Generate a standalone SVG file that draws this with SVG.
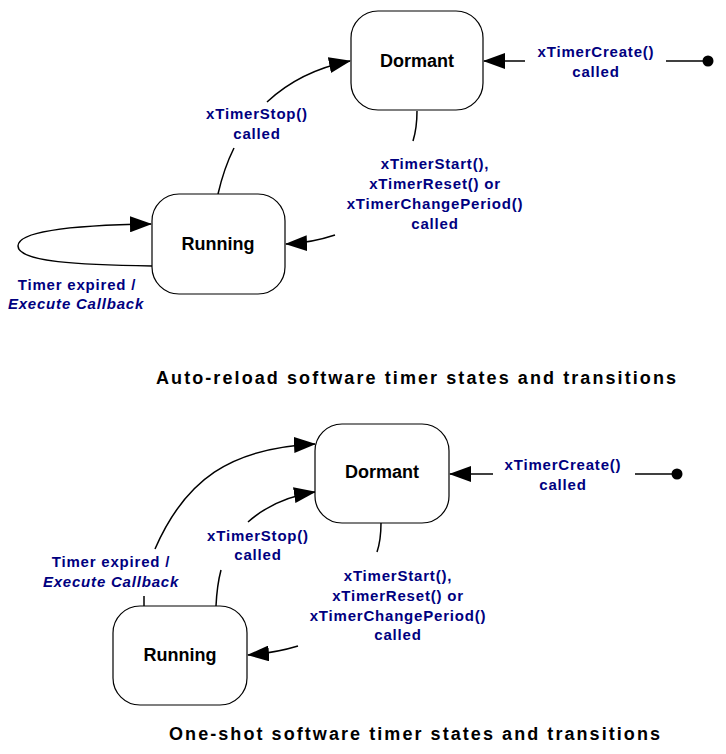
<svg xmlns="http://www.w3.org/2000/svg" width="726" height="754" viewBox="0 0 726 754">
<style>
.box{fill:#fff;stroke:#000;stroke-width:1.2}
.node{font-family:"Liberation Sans",Arial,sans-serif;font-weight:bold;font-size:18px;fill:#000;text-anchor:middle}
.lbl{font-family:"Liberation Sans",Arial,sans-serif;font-weight:bold;font-size:15px;fill:#00007f;text-anchor:middle;letter-spacing:0.8px}
.it{font-style:italic}
.cap{font-family:"Liberation Sans",Arial,sans-serif;font-weight:bold;font-size:18px;fill:#000}
.edge{fill:none;stroke:#000;stroke-width:1.5}
</style>
<defs>
<marker id="ah" markerUnits="userSpaceOnUse" markerWidth="22" markerHeight="16" refX="21" refY="8" orient="auto">
<path d="M0,0 L22,8 L0,16 z" fill="#000"/>
</marker>
</defs>
<rect width="726" height="754" fill="#fff"/>

<g id="connectors">
<!-- top diagram -->
<path class="edge" d="M666,61 L704,61"/>
<circle cx="708" cy="61" r="5.5" fill="#000"/>
<path class="edge" d="M525,61 L484,61" marker-end="url(#ah)"/>
<path class="edge" d="M218,194 Q224,168 234,148"/>
<path class="edge" d="M267,102 Q300,71 350,61" marker-end="url(#ah)"/>
<path class="edge" d="M417,111 Q417,128 413,141"/>
<path class="edge" d="M335,235 Q311,243 286,244" marker-end="url(#ah)"/>
<path class="edge" d="M152,266 C80,265 18,262 18,246 C18,230 80,225 151,224" marker-end="url(#ah)"/>
<!-- bottom diagram -->
<path class="edge" d="M635,474 L673,474"/>
<circle cx="677" cy="474" r="5.5" fill="#000"/>
<path class="edge" d="M493,474 L450,474" marker-end="url(#ah)"/>
<path class="edge" d="M144,606 L144,596"/>
<path class="edge" d="M155,549 C185,480 230,448 315,444" marker-end="url(#ah)"/>
<path class="edge" d="M216,606 Q217,585 221,570"/>
<path class="edge" d="M248,522 Q275,498 315,492" marker-end="url(#ah)"/>
<path class="edge" d="M381,523 Q381,540 377,552"/>
<path class="edge" d="M298,646 Q275,653 248,655" marker-end="url(#ah)"/>
</g>

<g id="top-dormant">
<rect class="box" x="351" y="11" width="132" height="99" rx="27" ry="27"/>
<text class="node" x="417" y="67">Dormant</text>
</g>
<g id="top-running">
<rect class="box" x="152" y="194" width="133" height="100" rx="27" ry="27"/>
<text class="node" x="218" y="250">Running</text>
</g>

<g id="top-labels">
<text class="lbl" x="596" y="57">xTimerCreate()</text>
<text class="lbl" x="596" y="77">called</text>
<text class="lbl" x="257" y="119">xTimerStop()</text>
<text class="lbl" x="257" y="139">called</text>
<text class="lbl" x="435" y="169">xTimerStart(),</text>
<text class="lbl" x="435" y="189">xTimerReset() or</text>
<text class="lbl" x="435" y="209">xTimerChangePeriod()</text>
<text class="lbl" x="435" y="229">called</text>
<text class="lbl" x="77" y="290">Timer expired /</text>
<text class="lbl it" x="76" y="309">Execute Callback</text>
</g>

<text class="cap" x="156" y="384" textLength="520" lengthAdjust="spacing">Auto-reload software timer states and transitions</text>

<g id="bottom-dormant">
<rect class="box" x="315" y="424" width="134" height="99" rx="27" ry="27"/>
<text class="node" x="382" y="478">Dormant</text>
</g>
<g id="bottom-running">
<rect class="box" x="113" y="606" width="134" height="99" rx="27" ry="27"/>
<text class="node" x="180" y="661">Running</text>
</g>

<g id="bottom-labels">
<text class="lbl" x="563" y="470">xTimerCreate()</text>
<text class="lbl" x="563" y="490">called</text>
<text class="lbl" x="258" y="541">xTimerStop()</text>
<text class="lbl" x="258" y="560">called</text>
<text class="lbl" x="398" y="581">xTimerStart(),</text>
<text class="lbl" x="398" y="601">xTimerReset() or</text>
<text class="lbl" x="398" y="621">xTimerChangePeriod()</text>
<text class="lbl" x="398" y="640">called</text>
<text class="lbl" x="111" y="567">Timer expired /</text>
<text class="lbl it" x="111" y="587">Execute Callback</text>
</g>

<text class="cap" x="169" y="740" textLength="491" lengthAdjust="spacing">One-shot software timer states and transitions</text>
</svg>
